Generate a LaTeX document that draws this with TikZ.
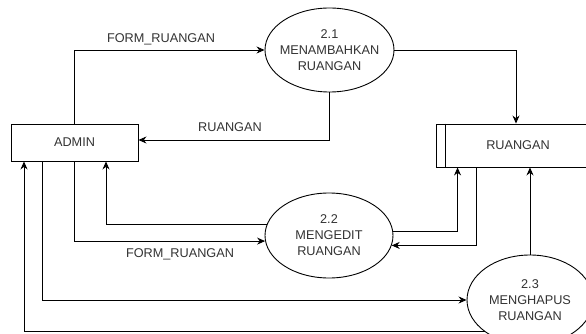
\documentclass[tikz,border=0pt]{standalone}
\usepackage{fontspec}
\setmainfont{Liberation Sans}
\usetikzlibrary{arrows.meta,shapes.geometric}
\begin{document}
\begin{tikzpicture}[x=1pt,y=-1pt,
  every node/.style={font=\fontsize{12.7}{16}\selectfont, text=black!80},
  entity/.style={draw, line width=0.9pt, rectangle, inner sep=0pt},
  proc/.style={draw, line width=0.9pt, ellipse, fill=white, inner xsep=-8pt, inner ysep=0pt, align=center},
  flow/.style={draw, line width=0.9pt, -{Stealth[length=8pt,width=7pt]}},
  lbl/.style={inner sep=0pt}]
\useasboundingbox (0,0) rectangle (586,334);
\clip (0,0) rectangle (586,334);
% nodes
\node[entity, minimum width=127pt, minimum height=37pt] (admin) at (74.5,142.5) {ADMIN};
\node[entity, minimum width=164pt, minimum height=43pt] (store) at (518,145.5) {RUANGAN};
\draw[line width=0.9pt] ([xshift=10pt]store.north west) -- ([xshift=10pt]store.south west);
\node[proc, minimum width=129pt, minimum height=84pt] (p21) at (329.5,50) {2.1\\MENAMBAHKAN\\RUANGAN};
\node[proc, minimum width=128pt, minimum height=85pt] (p22) at (329,235.5) {2.2\\MENGEDIT\\RUANGAN};
\node[proc, minimum width=126pt, minimum height=90pt] (p23) at (530,300) {2.3\\MENGHAPUS\\RUANGAN};
% labels
\node[lbl] (l1) at (161,39) {FORM\_RUANGAN};
\node[lbl] (l2) at (230,127) {RUANGAN};
\node[lbl] (l3) at (180,254) {FORM\_RUANGAN};
% connectors
\draw[flow] ([xshift=-0.5pt]admin.north) |- (p21.west);
\draw[flow] (p21.south) |- ([yshift=2.5pt]admin.east);
\draw[flow] (p21.east) -| ([xshift=-2pt]store.north);
\draw[flow] (p22.170.4) -| ([xshift=31.5pt]admin.south);
\draw[flow] ([xshift=-0.5pt]admin.south) |- (p22.185);
\draw[flow] (p22.4) -| ([xshift=22pt]store.south west);
\draw[flow] ([xshift=41pt]store.south west) |- (p22.-9.6);
\draw[flow] (p23.north) -- (p23.north |- store.south);
\draw[flow] ([xshift=-32.5pt]admin.south) |- (p23.west);
\draw[flow] (p23.215.8) -| ([xshift=-50.5pt]admin.south);
\end{tikzpicture}
\end{document}
